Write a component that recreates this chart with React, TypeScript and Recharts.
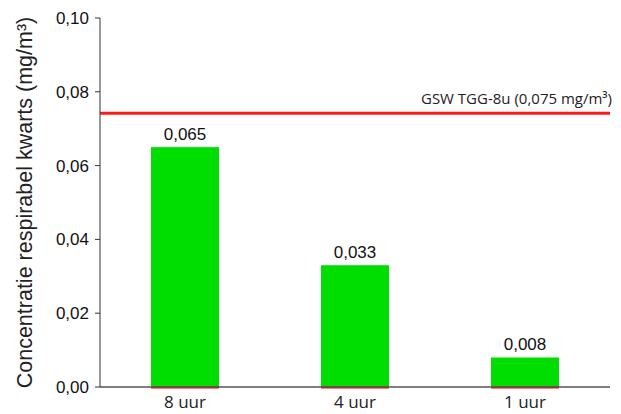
import { BarChart, Bar, XAxis, YAxis, ReferenceLine, LabelList } from "recharts";

const categories = ["8 uur", "4 uur", "1 uur"];
const concentrations = [0.065, 0.033, 0.008];
const yTicks = [0, 0.02, 0.04, 0.06, 0.08, 0.1];
const limitValue = 0.0742;
const limitLabel = "GSW TGG-8u (0,075 mg/m³)";

const data = categories.map((name, i) => ({ name, value: concentrations[i] }));

const comma = (v: number, d: number) => v.toFixed(d).replace(".", ",");

const BarShape = (props: any) => {
  const { x, y, width, height } = props;
  return (
    <g>
      <rect x={x} y={y} width={width} height={height} fill="#00DD00" />
      <line x1={x} x2={x + width} y1={y + height + 0.5} y2={y + height + 0.5} stroke="#FF0000" strokeWidth={2} />
    </g>
  );
};

export default function App() {
  return (
    <div style={{ position: "fixed", left: 0, top: 0, background: "#fff" }}>
      <BarChart
        width={621}
        height={414}
        data={data}
        margin={{ top: 18, right: 11, bottom: 0, left: 36 }}
        barCategoryGap="30%"
      >
        <XAxis
          dataKey="name"
          height={27}
          axisLine={{ stroke: "#555", strokeWidth: 1.5 }}
          tickLine={false}
          tick={{ fill: "#222", fontSize: 17, fontFamily: "Open Sans" }}
          tickMargin={3}
        />
        <YAxis
          domain={[0, 0.1]}
          ticks={yTicks}
          width={64}
          tickFormatter={(v: number) => comma(v, 2)}
          axisLine={{ stroke: "#333" }}
          tickLine={{ stroke: "#333" }}
          tickSize={5}
          tickMargin={6}
          tick={{ fill: "#111", fontSize: 17, fontFamily: "Liberation Sans" }}
          label={{
            value: "Concentratie respirabel kwarts (mg/m³)",
            angle: -90,
            position: "insideLeft",
            dx: -17,
            dy: 0,
            style: { textAnchor: "middle", fontSize: 21.5, fontFamily: "Liberation Sans", fill: "#222" },
          }}
        />
        <ReferenceLine
          y={limitValue}
          stroke="#FF1A1A"
          strokeWidth={3}
          label={{
            value: limitLabel,
            position: "insideTopRight",
            dy: -25,
            dx: 7,
            style: { fontSize: 15, fontFamily: "Open Sans", fill: "#222" },
          }}
        />
        <Bar dataKey="value" shape={BarShape} isAnimationActive={false}>
          <LabelList
            dataKey="value"
            position="top"
            offset={7}
            formatter={(v: any) => comma(Number(v), 3)}
            style={{ fontSize: 17, fontFamily: "Liberation Sans", fill: "#111" }}
          />
        </Bar>
      </BarChart>
    </div>
  );
}
